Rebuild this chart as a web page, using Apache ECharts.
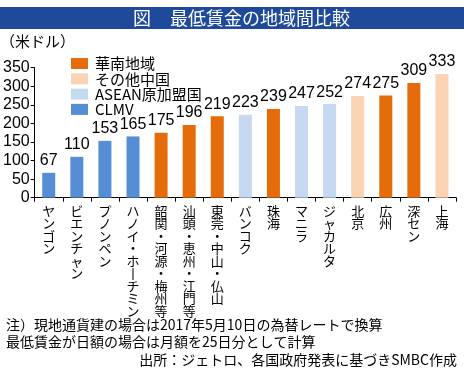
<!DOCTYPE html>
<html><head><meta charset="utf-8">
<script src="https://cdn.jsdelivr.net/npm/echarts@6/dist/echarts.min.js"></script>
<style>html,body{margin:0;padding:0;background:#fff}#c{width:464px;height:372px}</style>
</head><body><div id="c"></div>
<script>
var categories = ["ヤンゴン","ビエンチャン","プノンペン","ハノイ・ホーチミン","韶関・河源・梅州等","汕頭・恵州・江門等","東莞・中山・仏山","バンコク","珠海","マニラ","ジャカルタ","北京","広州","深セン","上海"];
var values = [67,110,153,165,175,196,219,223,239,247,252,274,275,309,333];
var groupNames = ["華南地域","その他中国","ASEAN原加盟国","CLMV"];
var groupOf = ["CLMV","CLMV","CLMV","CLMV","華南地域","華南地域","華南地域","ASEAN原加盟国","華南地域","ASEAN原加盟国","ASEAN原加盟国","その他中国","華南地域","華南地域","その他中国"];
var groupColors = ["#E46C0A","#FBD4B4","#C6D9F1","#558ED5"];
var yTicks = [0,50,100,150,200,250,300,350];

var JP = '"Noto Sans CJK JP", sans-serif';
var NUM = '"Liberation Sans Narrow", "Arial Narrow", "Liberation Sans", sans-serif';

var series = groupNames.map(function(g, gi){
  return {
    name: g, type: 'bar', stack: 'all', barWidth: 13,
    itemStyle: {color: groupColors[gi]},
    label: {show: true, position: 'top', distance: 4, color: '#000', fontFamily: NUM, fontSize: 16},
    data: values.map(function(v, i){ return groupOf[i] === g ? v : '-'; })
  };
});

var chart = echarts.init(document.getElementById('c'), null, {renderer: 'canvas'});
chart.setOption({
  animation: false,
  grid: {left: 31, right: 8, top: 67.7, bottom: 174.3, containLabel: false},
  xAxis: {
    type: 'category', data: categories,
    axisLine: {lineStyle: {color: '#000', width: 1}},
    axisTick: {show: true, length: 4, lineStyle: {color: '#000'}},
    axisLabel: {
      interval: 0, margin: 7, color: '#000', fontFamily: JP, fontSize: 13, lineHeight: 12.5,
      verticalAlign: 'top',
      formatter: function(s){ return s.replace(/ー/g, '丨').split('').join('\n'); }
    }
  },
  yAxis: {
    type: 'value', min: 0, max: 350, interval: 50,
    axisLine: {show: true, lineStyle: {color: '#000', width: 1}},
    axisTick: {show: true, length: 4, lineStyle: {color: '#000'}},
    splitLine: {show: false},
    axisLabel: {margin: 5, color: '#000', fontFamily: NUM, fontSize: 16,
      formatter: function(v){ return yTicks.indexOf(v) >= 0 ? String(v) : ''; }}
  },
  legend: {
    orient: 'vertical', left: 66, top: 51, itemWidth: 17, itemHeight: 11, itemGap: 0.3,
    icon: 'rect',
    textStyle: {fontFamily: JP, fontSize: 15, color: '#000', lineHeight: 14, padding: [0,0,0,2]},
    data: groupNames
  },
  graphic: [
    {type: 'rect', shape: {x: 0, y: 7, width: 464, height: 22}, style: {fill: '#1F4A9C'}},
    {type: 'text', x: 133, y: 18, style: {text: '図', fill: '#fff', font: '18px ' + JP, textVerticalAlign: 'middle'}},
    {type: 'text', x: 170, y: 18, style: {text: '最低賃金の地域間比較', fill: '#fff', font: '18px ' + JP, textVerticalAlign: 'middle'}},
    {type: 'text', x: 0, y: 41, style: {text: '（米ドル）', fill: '#000', font: '15px ' + JP, textVerticalAlign: 'middle'}},
    {type: 'text', x: 6, y: 325, style: {text: '注）現地通貨建の場合は2017年5月10日の為替レートで換算', fill: '#000', font: '14px ' + JP, textVerticalAlign: 'middle'}},
    {type: 'text', x: 6, y: 342, style: {text: '最低賃金が日額の場合は月額を25日分として計算', fill: '#000', font: '14px ' + JP, textVerticalAlign: 'middle'}},
    {type: 'text', x: 457, y: 360, style: {text: '出所：ジェトロ、各国政府発表に基づきSMBC作成', fill: '#000', font: '14px ' + JP, textAlign: 'right', textVerticalAlign: 'middle'}}
  ],
  series: series
});
</script></body></html>
